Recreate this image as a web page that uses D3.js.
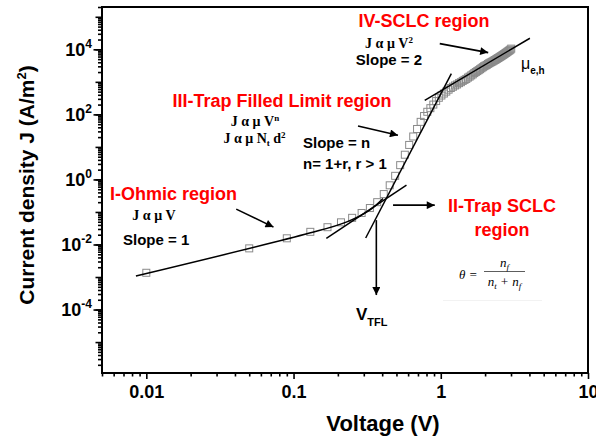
<!DOCTYPE html>
<html><head><meta charset="utf-8">
<script src="https://cdn.jsdelivr.net/npm/d3@7/dist/d3.min.js"></script>
<style>body{margin:0;background:#fff}svg{display:block}</style>
</head><body>
<svg id="chart" width="596" height="441"></svg>
<script>
// ---- data ----
const voltage = [0.01,0.05,0.09,0.13,0.17,0.21,0.25,0.29,0.33,0.37,0.41,0.45,0.49,0.53,0.57,0.61,0.65,0.69,0.73,0.77,0.81,0.85,0.89,0.93,0.97,1.01,1.05,1.09,1.13,1.17,1.21,1.25,1.29,1.33,1.37,1.41,1.45,1.49,1.53,1.57,1.61,1.65,1.69,1.73,1.77,1.81,1.85,1.89,1.93,1.97,2.01,2.05,2.09,2.13,2.17,2.21,2.25,2.29,2.33,2.37,2.41,2.45,2.49,2.53,2.57,2.61,2.65,2.69,2.73,2.77,2.81,2.85,2.89,2.93,2.97,3.01];
const currentDensity = [1.35e-3,7.6e-3,1.55e-2,2.45e-2,3.4e-2,4.8e-2,6.6e-2,9.3e-2,0.132,0.20,0.355,0.66,1.29,2.75,5.75,11.5,20.9,35.5,58.9,89,120,155,200,257,324,380,437,501,575,646,708,776,832,912,977,1070,1150,1230,1350,1450,1580,1700,1860,2000,2140,2290,2450,2630,2820,3020,3160,3310,3550,3720,3890,4070,4270,4470,4680,4900,5130,5370,5620,5890,6170,6460,6760,7080,7410,7760,8130,8510,8910,9330,9770,10500];

// fitted lines (V, J)
const ohmicFitV = [0.0085,0.1285,0.228,0.329,0.405];
const ohmicFitJ = [1.07e-3,0.0224,0.0487,0.114,0.26];
const trapFitV = [0.167,0.585];
const trapFitJ = [0.0155,0.667];
const tflFitV = [0.309,1.18];
const tflFitJ = [0.0158,1780];
const sclcFitV = [0.778,4.03];
const sclcFitJ = [269,21900];

// arrows [V1,J1,V2,J2]
const arrowOhmic = [0.0408,0.122,0.0731,0.0342];
const arrowTFL = [0.274,44.2,0.512,22.9];
const arrowTrap = [0.474,0.162,0.910,0.162];
const arrowSCLC = [0.984,15000,2.10,7920];
const arrowVtfl = [0.365,0.0561,0.365,2.79e-4];

const xTickValues = [0.01,0.1,1,10];
const xTickLabels = ["0.01","0.1","1","10"];
const yTickExponents = [-4,-2,0,2,4];

// ---- layout ----
const W = 596, H = 441;
const m = {left:102, right:8, top:7, bottom:68};
const svg = d3.select("#chart");
const x = d3.scaleLog().domain([0.005,10]).range([m.left, W-m.right]);
const y = d3.scaleLog().domain([1.12e-6,2e5]).range([H-m.bottom, m.top]);
const SANS = "'Liberation Sans', Arial, sans-serif";
const SERIF = "'Liberation Serif', 'Times New Roman', serif";

// minor ticks
const xMinor = [];
[0.001,0.01,0.1,1].forEach(d => { for (let k=2;k<=9;k++){ const v=d*k; if (v>=0.005 && v<=10 && !xTickValues.includes(v)) xMinor.push(v);} });
const yMinor = [], yDecades = [];
for (let e=-7;e<=5;e++){ const d=Math.pow(10,e); if (d>=1.12e-6 && d<=2e5) yDecades.push(d); for(let k=2;k<=9;k++){ const v=d*k; if (v>=1.12e-6 && v<=2e5) yMinor.push(v);} }

const defs = svg.append("defs");
defs.append("marker").attr("id","ah").attr("viewBox","0 0 10 10").attr("refX",10).attr("refY",5)
  .attr("markerUnits","userSpaceOnUse").attr("markerWidth",10).attr("markerHeight",8).attr("orient","auto")
  .append("path").attr("d","M0,0 L10,5 L0,10 z").attr("fill","#000");

// axes
const bottomY = H-m.bottom;
const gx = svg.append("g").attr("transform",`translate(0,${bottomY})`);
gx.append("g").call(d3.axisBottom(x).tickValues(xMinor).tickSize(3.5).tickFormat("").tickSizeOuter(0));
gx.append("g").call(d3.axisBottom(x).tickValues(xTickValues).tickSize(6).tickSizeOuter(0)
   .tickFormat((d,i)=>xTickLabels[i]));
gx.selectAll("path.domain").remove();
gx.selectAll("line").attr("stroke","#000").attr("stroke-width",1.6);
gx.selectAll("text").attr("font-family",SANS).attr("font-weight","bold").attr("font-size",18)
  .attr("fill","#000").attr("dy",null).attr("y",25);

const gy = svg.append("g").attr("transform",`translate(${m.left},0)`);
gy.append("g").call(d3.axisLeft(y).tickValues(yMinor).tickSize(4).tickFormat("").tickSizeOuter(0));
gy.append("g").call(d3.axisLeft(y).tickValues(yDecades).tickSize(6.5).tickFormat("").tickSizeOuter(0));
gy.append("g").call(d3.axisLeft(y).tickValues(yTickExponents.map(e=>Math.pow(10,e))).tickSize(8.5).tickFormat("").tickSizeOuter(0));
gy.selectAll("path.domain").remove();
gy.selectAll("line").attr("stroke","#000").attr("stroke-width",1.6);

// y tick labels with superscripts
yTickExponents.forEach(e => {
  const t = svg.append("text").attr("x",92).attr("y",y(Math.pow(10,e))+6.5)
    .attr("text-anchor","end").attr("font-family",SANS).attr("font-weight","bold").attr("font-size",18);
  t.append("tspan").text("10");
  t.append("tspan").attr("dy",-8).attr("font-size",12).text(String(e));
});

// frame
svg.append("rect").attr("x",m.left).attr("y",m.top).attr("width",W-m.left-m.right).attr("height",H-m.top-m.bottom)
  .attr("fill","none").attr("stroke","#000").attr("stroke-width",2);

// data markers
const pts = voltage.map((v,i)=>({v, j:currentDensity[i]}));
svg.append("g").selectAll("rect").data(pts).join("rect")
  .attr("x",d=>x(d.v)-3.5).attr("y",d=>y(d.j)-3.5).attr("width",7).attr("height",7)
  .attr("fill","none").attr("stroke","#8a8a8a").attr("stroke-width",1);

// fit lines
const line = d3.line().x(d=>x(d[0])).y(d=>y(d[1]));
const zip = (a,b)=>a.map((v,i)=>[v,b[i]]);
svg.append("path").attr("d", line.curve(d3.curveCatmullRom)(zip(ohmicFitV,ohmicFitJ)))
  .attr("fill","none").attr("stroke","#000").attr("stroke-width",1.5);
const straight = d3.line().x(d=>x(d[0])).y(d=>y(d[1]));
[[trapFitV,trapFitJ],[tflFitV,tflFitJ],[sclcFitV,sclcFitJ]].forEach(([a,b])=>{
  svg.append("path").attr("d", straight(zip(a,b))).attr("fill","none").attr("stroke","#000").attr("stroke-width",1.5);
});

// arrows
[arrowOhmic,arrowTFL,arrowTrap,arrowSCLC,arrowVtfl].forEach(a=>{
  svg.append("line").attr("x1",x(a[0])).attr("y1",y(a[1])).attr("x2",x(a[2])).attr("y2",y(a[3]))
    .attr("stroke","#000").attr("stroke-width",1.6).attr("marker-end","url(#ah)");
});

// annotation text
function txt(xp, yp, s, o={}) {
  return svg.append("text").attr("x",xp).attr("y",yp).attr("text-anchor",o.anchor||"start")
    .attr("font-family",o.family||SANS).attr("font-weight",o.weight||"bold").attr("font-size",o.size||18)
    .attr("font-style",o.style||"normal").attr("fill",o.fill||"#000").text(s);
}
const RED = "#ff0000";
txt(424,27,"IV-SCLC region",{anchor:"middle",fill:RED});
const f1 = txt(389,47.5,"J α μ V",{anchor:"middle",family:SERIF,size:14});
f1.append("tspan").attr("dy",-5).attr("font-size",9).text("2");
txt(389,65,"Slope = 2",{anchor:"middle",size:15});
const mu = txt(521,69,"μ",{size:16,weight:"normal"});
mu.append("tspan").attr("dy",5).attr("font-size",10).attr("font-weight","bold").text("e,h");

txt(282,107,"III-Trap Filled Limit region",{anchor:"middle",fill:RED});
const f2 = txt(255,125.5,"J α μ V",{anchor:"middle",family:SERIF,size:14});
f2.append("tspan").attr("dy",-5).attr("font-size",9).text("n");
const f3 = txt(254.5,142.5,"J α μ N",{anchor:"middle",family:SERIF,size:14});
f3.append("tspan").attr("dy",3).attr("font-size",9).text("t");
f3.append("tspan").attr("dy",-3).text(" d");
f3.append("tspan").attr("dy",-5).attr("font-size",9).text("2");
txt(303,147.5,"Slope = n",{size:15});
txt(303,168.5,"n= 1+r, r > 1",{size:15});

txt(110,200,"I-Ohmic region",{fill:RED});
txt(154,220,"J α μ V",{anchor:"middle",family:SERIF,size:14});
txt(123,245,"Slope = 1",{size:15});

txt(502,212,"II-Trap SCLC",{anchor:"middle",fill:RED});
txt(502,236,"region",{anchor:"middle",fill:RED});

// theta formula
txt(459,279,"θ =",{family:SERIF,style:"italic",weight:"normal",size:13});
const num = txt(504.5,266.5,"n",{anchor:"middle",family:SERIF,style:"italic",weight:"normal",size:13});
num.append("tspan").attr("dy",3).attr("font-size",9).text("f");
svg.append("line").attr("x1",484).attr("x2",525).attr("y1",271.5).attr("y2",271.5).attr("stroke","#333").attr("stroke-width",0.8);
const den = txt(504.5,286,"n",{anchor:"middle",family:SERIF,style:"italic",weight:"normal",size:13});
den.append("tspan").attr("dy",3).attr("font-size",9).text("t");
den.append("tspan").attr("dy",-3).text(" + n");
den.append("tspan").attr("dy",3).attr("font-size",9).text("f");
svg.append("line").attr("x1",443).attr("x2",542).attr("y1",300.5).attr("y2",300.5).attr("stroke","#f2f2f2").attr("stroke-width",1);

const vt = txt(356,320,"V",{size:17});
vt.append("tspan").attr("dy",6).attr("font-size",11).text("TFL");

// axis titles
txt(383,431,"Voltage (V)",{anchor:"middle",size:22});
const yl = svg.append("text").attr("transform","translate(34,185) rotate(-90)").attr("text-anchor","middle")
  .attr("font-family",SANS).attr("font-weight","bold").attr("font-size",21).attr("fill","#000");
yl.append("tspan").text("Current density J (A/m");
yl.append("tspan").attr("dy",-8).attr("font-size",13).text("2");
yl.append("tspan").attr("dy",8).text(")");
</script>
</body></html>
